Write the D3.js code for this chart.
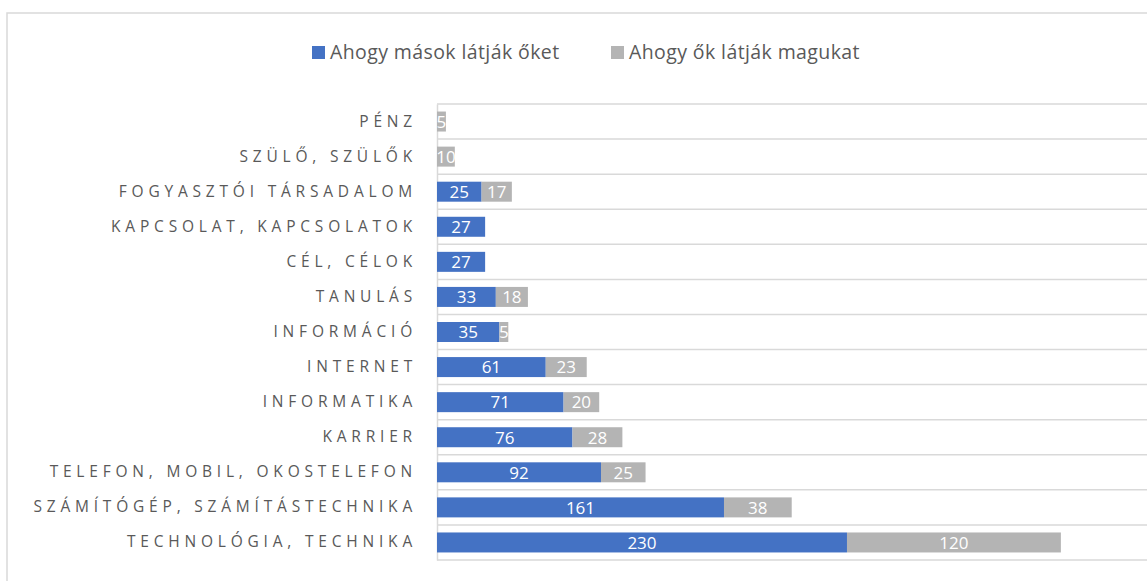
<!DOCTYPE html>
<html>
<head>
<meta charset="utf-8">
<script src="https://cdn.jsdelivr.net/npm/d3@7"></script>
<style>
  body { margin: 0; background: #fff; }
  text { font-family: "Open Sans", sans-serif; }
</style>
</head>
<body>
<svg id="chart" width="1147" height="581"></svg>
<script>
const categories = [
    "PÉNZ", "SZÜLŐ, SZÜLŐK", "FOGYASZTÓI TÁRSADALOM", "KAPCSOLAT, KAPCSOLATOK",
    "CÉL, CÉLOK", "TANULÁS", "INFORMÁCIÓ", "INTERNET", "INFORMATIKA", "KARRIER",
    "TELEFON, MOBIL, OKOSTELEFON", "SZÁMÍTÓGÉP, SZÁMÍTÁSTECHNIKA", "TECHNOLÓGIA, TECHNIKA"];

const others = [0, 0, 25, 27, 27, 33, 35, 61, 71, 76, 92, 161, 230];
const selves = [5, 10, 17, 0, 0, 18, 5, 23, 20, 28, 25, 38, 120];

const seriesNames = ["Ahogy mások látják őket", "Ahogy ők látják magukat"];
const colors = ["#4472c4", "#b4b4b4"];

let svg = d3.select("#chart");

let margin = {top: 104, right: 0, bottom: 21, left: 437};
let width = 1147 - margin.left - margin.right;
let height = 581 - margin.top - margin.bottom;

// chart area border
svg.append("rect")
    .attr("x", 7)
    .attr("y", 13)
    .attr("width", 1200)
    .attr("height", 700)
    .attr("fill", "none")
    .attr("stroke", "#d9d9d9")
    .attr("stroke-width", 1.5);

let g = svg.append("g")
    .attr("transform", `translate(${margin.left}, ${margin.top})`);

const table = categories.map((c, i) => ({group: c, others: others[i], selves: selves[i]}));
const stacked = d3.stack().keys(["others", "selves"])(table);

let x = d3.scaleLinear()
    .domain([0, 400])
    .range([0, 713]);

let y = d3.scaleBand()
    .domain(categories)
    .range([0, height])
    .paddingInner(0.43)
    .paddingOuter(0.215);

// horizontal gridlines at category boundaries
const bounds = d3.range(categories.length + 1).map(i => i * height / categories.length);
g.selectAll(".grid")
    .data(bounds)
    .join("line")
    .attr("class", "grid")
    .attr("x1", 0)
    .attr("x2", width)
    .attr("y1", d => d)
    .attr("y2", d => d)
    .style("stroke", "#d9d9d9")
    .style("stroke-width", "1.5px");

// category axis
let yAxis = g.append("g")
    .call(d3.axisLeft(y).tickSize(0).tickPadding(20));
yAxis.select(".domain")
    .attr("stroke", "#d9d9d9")
    .attr("stroke-width", 1.5);
yAxis.selectAll("text")
    .attr("fill", "#595959")
    .style("font-size", "15.5px")
    .style("letter-spacing", "4.8px")
    .style("font-family", "'Open Sans', sans-serif");

// bars
let layers = g.selectAll(".layer")
    .data(stacked)
    .join("g")
    .attr("class", "layer")
    .attr("fill", (d, i) => colors[i]);

layers.selectAll("rect")
    .data(d => d.filter(p => p[1] - p[0] > 0))
    .join("rect")
    .attr("x", d => x(d[0]))
    .attr("y", d => y(d.data.group))
    .attr("width", d => x(d[1]) - x(d[0]))
    .attr("height", y.bandwidth());

layers.selectAll(".label")
    .data(d => d.filter(p => p[1] - p[0] > 0))
    .join("text")
    .attr("class", "label")
    .attr("x", d => (x(d[0]) + x(d[1])) / 2)
    .attr("y", d => y(d.data.group) + y.bandwidth() / 2)
    .attr("dy", "0.37em")
    .attr("text-anchor", "middle")
    .attr("fill", "#fff")
    .style("font-size", "17px")
    .text(d => d[1] - d[0]);

// legend
const legendX = [312, 611];
let legend = svg.selectAll(".legend")
    .data(seriesNames)
    .join("g")
    .attr("class", "legend")
    .attr("transform", (d, i) => `translate(${legendX[i]}, 52)`);

legend.append("rect")
    .attr("x", 0)
    .attr("y", -6)
    .attr("width", 13)
    .attr("height", 13)
    .attr("fill", (d, i) => colors[i]);

legend.append("text")
    .attr("x", 18)
    .attr("dy", "0.36em")
    .attr("fill", "#595959")
    .style("font-size", "19.5px")
    .style("letter-spacing", "0.4px")
    .text(d => d);
</script>
</body>
</html>
